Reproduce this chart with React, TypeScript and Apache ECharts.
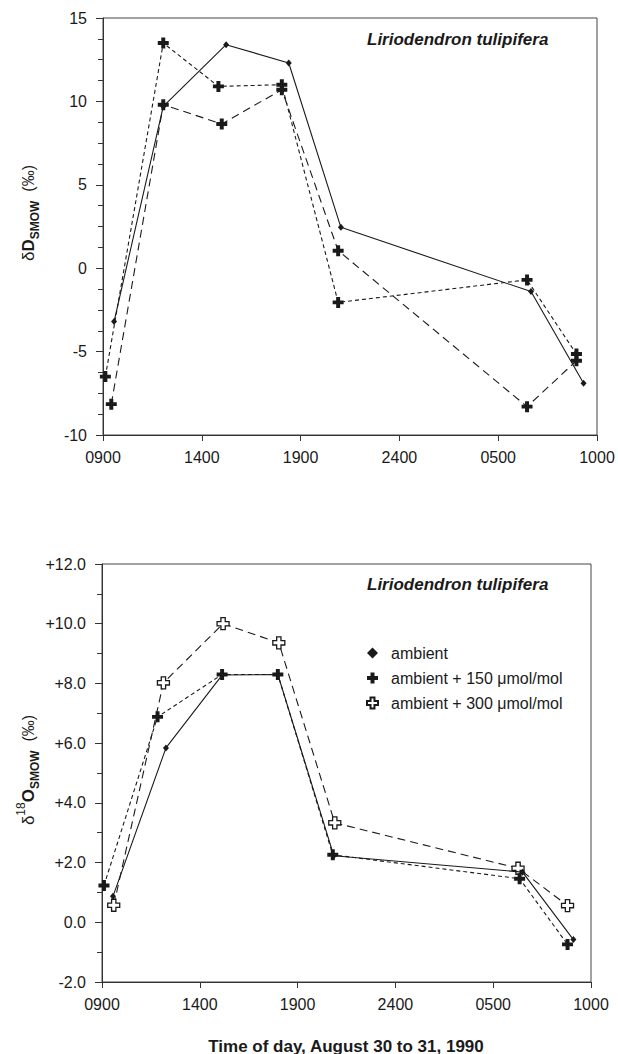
import React, { useEffect, useRef } from "react";
import * as echarts from "echarts";

// x = hours since 0900, August 30
const xTickLabels = ["0900", "1400", "1900", "2400", "0500", "1000"];

// Top panel: deltaD SMOW (per mil)
const ambientD_x = [0.56, 3.05, 6.23, 9.4, 12.04, 21.66, 24.32];
const ambientD_y = [-3.2, 9.7, 13.4, 12.3, 2.45, -1.4, -6.9];
const plus150D_x = [0.12, 3.05, 5.84, 9.05, 11.9, 21.46, 23.96];
const plus150D_y = [-6.5, 13.5, 10.9, 11.0, -2.05, -0.7, -5.15];
const plus300D_x = [0.42, 3.05, 6.01, 9.05, 11.9, 21.46, 23.96];
const plus300D_y = [-8.15, 9.8, 8.65, 10.7, 1.05, -8.3, -5.55];

// Bottom panel: delta18O SMOW (per mil)
const ambientO_x = [0.56, 3.27, 6.14, 8.99, 11.85, 21.5, 24.1];
const ambientO_y = [0.87, 5.84, 8.28, 8.3, 2.23, 1.68, -0.58];
const plus150O_x = [0.1, 2.84, 6.14, 8.99, 11.8, 21.35, 23.8];
const plus150O_y = [1.23, 6.88, 8.3, 8.3, 2.26, 1.46, -0.74];
const plus300O_x = [0.6, 3.14, 6.19, 9.04, 11.9, 21.27, 23.8];
const plus300O_y = [0.57, 8.02, 10.0, 9.36, 3.33, 1.81, 0.56];

const seriesNames = ["ambient", "ambient + 150 μmol/mol", "ambient + 300 μmol/mol"];

const zip = (xs: number[], ys: number[]) => xs.map((x, i) => [x, ys[i]]);

const crossPath = "path://M3.2,0 H6.8 V3.2 H10 V6.8 H6.8 V10 H3.2 V6.8 H0 V3.2 H3.2 Z";
const FONT = "'Liberation Sans', Arial, Helvetica, sans-serif";
const INK = "#1a1a1a";

export default function App() {
  const ref = useRef<HTMLDivElement>(null);
  useEffect(() => {
    if (!ref.current) return;
    const chart = echarts.init(ref.current, undefined, { renderer: "svg" });

    const xAxisBase = (gridIndex: number) => ({
      type: "value" as const,
      gridIndex,
      min: 0,
      max: 25,
      interval: 5,
      axisLine: { show: true, onZero: false, lineStyle: { color: "#333", width: 1 } },
      axisTick: { show: true, length: 6, lineStyle: { color: "#333" } },
      axisLabel: {
        margin: 14,
        fontSize: 16,
        color: INK,
        fontFamily: FONT,
        formatter: (v: number) => xTickLabels[Math.round(v / 5)] ?? "",
      },
      splitLine: { show: false },
    });

    const yAxisBase = (gridIndex: number) => ({
      type: "value" as const,
      gridIndex,
      axisLine: { show: true, onZero: false, lineStyle: { color: "#333", width: 1 } },
      axisTick: { show: true, length: 7, lineStyle: { color: "#333" } },
      minorTick: { show: true, length: 5, lineStyle: { color: "#333" } },
      axisLabel: { margin: 16, fontSize: 16, color: INK, fontFamily: FONT },
      splitLine: { show: false },
      minorSplitLine: { show: false },
    });

    const solid = { color: INK, width: 1.1, type: "solid" as const };
    const shortDash = { color: INK, width: 1.1, type: [4, 3] as any };
    const longDash = { color: INK, width: 1.1, type: [8, 5] as any };

    const filledCross = { color: INK, borderWidth: 0 };
    const openCross = { color: "#ffffff", borderColor: INK, borderWidth: 1.3 };

    const mk = (
      name: string,
      xi: number,
      data: number[][],
      lineStyle: any,
      symbol: string,
      symbolSize: any,
      itemStyle: any,
      z: number
    ) => ({
      type: "line" as const,
      name,
      xAxisIndex: xi,
      yAxisIndex: xi,
      data,
      lineStyle,
      symbol,
      symbolSize,
      itemStyle,
      showSymbol: true,
      z,
      emphasis: { disabled: true },
    });

    const titleStyle = {
      fontSize: 17,
      fontWeight: "bold",
      fontStyle: "italic",
      fill: INK,
      fontFamily: FONT,
    };

    const richName = {
      d: { fontSize: 17, fontFamily: FONT, fill: INK, lineHeight: 26, verticalAlign: "middle" },
      b: { fontSize: 17, fontWeight: "bold", fontFamily: FONT, fill: INK, lineHeight: 26, verticalAlign: "middle" },
      s: { fontSize: 12, fontWeight: "bold", fontFamily: FONT, fill: INK, lineHeight: 12, verticalAlign: "bottom" },
      sup: { fontSize: 12, fontFamily: FONT, fill: INK, lineHeight: 12, verticalAlign: "top" },
      n: { fontSize: 16, fontFamily: FONT, fill: INK, lineHeight: 26, verticalAlign: "middle" },
    };

    chart.setOption({
      animation: false,
      backgroundColor: "#ffffff",
      textStyle: { fontFamily: FONT },
      grid: [
        { left: 103, top: 18, width: 494, height: 417, show: true, borderColor: "#444", borderWidth: 1, backgroundColor: "transparent" },
        { left: 102, top: 564, width: 489, height: 418, show: true, borderColor: "#444", borderWidth: 1, backgroundColor: "transparent" },
      ],
      xAxis: [xAxisBase(0), xAxisBase(1)],
      yAxis: [
        { ...yAxisBase(0), min: -10, max: 15, interval: 5, minorTick: { show: true, splitNumber: 4, length: 5, lineStyle: { color: "#333" } } },
        {
          ...yAxisBase(1),
          min: -2,
          max: 12,
          interval: 2,
          minorTick: { show: true, splitNumber: 2, length: 5, lineStyle: { color: "#333" } },
          axisLabel: {
            margin: 16,
            fontSize: 16,
            color: INK,
            fontFamily: FONT,
            formatter: (v: number) => (v > 0 ? "+" : "") + v.toFixed(1),
          },
        },
      ],
      legend: {
        show: true,
        orient: "vertical",
        left: 361,
        top: 640,
        itemWidth: 11,
        itemHeight: 11,
        itemGap: 9,
        selectedMode: false,
        textStyle: { fontSize: 16, color: INK, fontFamily: FONT, padding: [0, 0, 0, 8] },
        data: [
          { name: seriesNames[0], icon: "diamond" },
          { name: seriesNames[1], icon: crossPath },
          { name: seriesNames[2], icon: crossPath },
        ],
      },
      series: [
        mk("D " + seriesNames[1], 0, zip(plus150D_x, plus150D_y), shortDash, crossPath, 11, filledCross, 3),
        mk("D " + seriesNames[2], 0, zip(plus300D_x, plus300D_y), longDash, crossPath, 11, filledCross, 3),
        mk("D " + seriesNames[0], 0, zip(ambientD_x, ambientD_y), solid, "diamond", [6, 7], { color: INK }, 4),
        mk(seriesNames[2], 1, zip(plus300O_x, plus300O_y), longDash, crossPath, 12, openCross, 3),
        mk(seriesNames[1], 1, zip(plus150O_x, plus150O_y), shortDash, crossPath, 11, filledCross, 3),
        mk(seriesNames[0], 1, zip(ambientO_x, ambientO_y), solid, "diamond", [6, 7], { color: INK }, 4),
      ],
      graphic: [
        { type: "text", left: 367, top: 31, style: { text: "Liriodendron tulipifera", ...titleStyle } },
        { type: "text", left: 367, top: 576, style: { text: "Liriodendron tulipifera", ...titleStyle } },
        {
          type: "text",
          x: 28,
          y: 213,
          rotation: Math.PI / 2,
          style: {
            text: "{d|δ}{b|D}{s|SMOW}{n|  (‰)}",
            align: "center",
            verticalAlign: "middle",
            rich: richName,
          },
        },
        {
          type: "text",
          x: 28,
          y: 770,
          rotation: Math.PI / 2,
          style: {
            text: "{d|δ}{sup|18}{b|O}{s|SMOW}{n|  (‰)}",
            align: "center",
            verticalAlign: "middle",
            rich: richName,
          },
        },
        {
          type: "text",
          x: 346,
          y: 1046,
          style: {
            text: "Time of day, August 30 to 31, 1990",
            align: "center",
            verticalAlign: "middle",
            fontSize: 17,
            fontWeight: "bold",
            fill: INK,
            fontFamily: FONT,
          },
        },
      ],
    });

    return () => chart.dispose();
  }, []);

  return (
    <div
      ref={ref}
      style={{ position: "fixed", left: 0, top: 0, width: 618, height: 1054, background: "#fff" }}
    />
  );
}
